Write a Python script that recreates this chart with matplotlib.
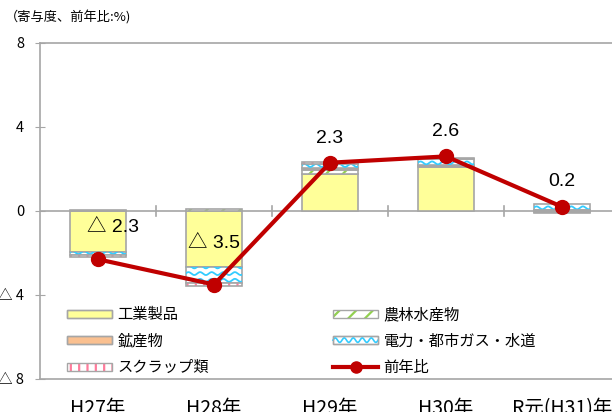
import matplotlib
matplotlib.use('Agg')
import matplotlib.pyplot as plt
import numpy as np
from matplotlib.patches import Patch, Rectangle
from matplotlib.lines import Line2D
from matplotlib.legend_handler import HandlerBase

plt.rcParams['font.family'] = ['Noto Sans CJK JP', 'DejaVu Sans']
plt.rcParams['hatch.linewidth'] = 1.6

# データ (寄与度、前年比 %)
years = ['H27年', 'H28年', 'H29年', 'H30年', 'R元(H31)年']
kogyo = [-1.95, -2.65, 1.75, 2.08, -0.03]      # 工業製品
norin = [0.02, 0.08, 0.22, 0.05, 0.03]         # 農林水産物
kozan = [0.01, -0.02, 0.08, 0.04, -0.03]       # 鉱産物
denryoku = [-0.15, -0.75, 0.20, 0.30, 0.32]    # 電力・都市ガス・水道
scrap = [-0.10, -0.15, 0.08, 0.05, -0.05]      # スクラップ類
zennen = [-2.3, -3.5, 2.3, 2.6, 0.2]           # 前年比

label_y = [-0.8, -1.55, 3.45, 3.78, 1.4]
label_dx = [0.13, 0.0, 0, 0, 0]

EDGE = '#a6a6a6'
YELLOW = '#ffff99'
ORANGE = '#fac090'
GREEN = '#92d050'
BLUE = '#33ccff'
PINK = '#ff7c9c'
RED = '#c00000'

fig = plt.figure(figsize=(6.12, 4.12), dpi=100)
ax = fig.add_axes([40/612, 1-379/412, 580/612, 336/412])

x = np.arange(len(years))
w = 0.49

series = [
    ('工業製品', kogyo, dict(color=YELLOW)),
    ('農林水産物', norin, dict(color='white', hatch='//', hc=GREEN)),
    ('鉱産物', kozan, dict(color=ORANGE)),
    ('電力・都市ガス・水道', denryoku, dict(color='white', wave=True)),
    ('スクラップ類', scrap, dict(color='white', hatch='||', hc=PINK)),
]

def draw_wave(ax, rect):
    bx, by = rect.get_x(), rect.get_y()
    bw, bh = rect.get_width(), rect.get_height()
    if bh == 0:
        return
    xs = np.linspace(bx, bx + bw, 200)
    lo, hi = min(by, by + bh), max(by, by + bh)
    ylev = lo + 0.12
    while ylev < hi + 0.2:
        ys = ylev + 0.07 * np.sin((xs - bx) / 0.1 * 2 * np.pi)
        ln, = ax.plot(xs, ys, color=BLUE, lw=1.3, zorder=2.5)
        ln.set_clip_path(rect)
        ylev += 0.32

pos_base = np.zeros(len(x))
neg_base = np.zeros(len(x))
for name, vals, st in series:
    vals = np.array(vals)
    bottoms = np.where(vals >= 0, pos_base, neg_base)
    bars = ax.bar(x, vals, w, bottom=bottoms, color=st['color'],
                  edgecolor=st.get('hc', EDGE), hatch=st.get('hatch'),
                  linewidth=0 if 'hatch' in st else 1.2, zorder=2)
    if 'hatch' in st:
        ax.bar(x, vals, w, bottom=bottoms, fill=False, edgecolor=EDGE,
               linewidth=1.2, zorder=2.6)
    if st.get('wave'):
        for r in bars:
            draw_wave(ax, r)
    pos_base = pos_base + np.where(vals >= 0, vals, 0)
    neg_base = neg_base + np.where(vals < 0, vals, 0)

ax.plot(x, zennen, color=RED, lw=3, marker='o', ms=10, zorder=4)

for i, v in enumerate(zennen):
    txt = f'△ {abs(v):.1f}' if v < 0 else f'{v:.1f}'
    ax.text(x[i] + label_dx[i], label_y[i], txt, ha='center', va='center',
            fontsize=14, family=['Liberation Sans', 'Noto Sans CJK JP'], zorder=5)

# zero line with category separators
ax.axhline(0, color=EDGE, lw=1.2, zorder=1)
for b in x[:-1] + 0.5:
    ax.plot([b, b], [-0.25, 0.25], color=EDGE, lw=1.2, zorder=1)

ax.set_xlim(-0.5, len(years) - 0.5)
ax.set_ylim(-8, 8)
ax.set_yticks([8, 4, 0, -4, -8])
ax.set_yticklabels(['8', '4', '0', '△ 4', '△ 8'], fontsize=10.5)
ax.tick_params(axis='y', direction='inout', length=7, color=EDGE, pad=8)
ax.set_xticks(x)
ax.set_xticklabels(years, fontsize=14)
ax.tick_params(axis='x', length=0, pad=14)
for s in ['left', 'bottom', 'top']:
    ax.spines[s].set_color(EDGE)
    ax.spines[s].set_linewidth(1.2)
ax.spines['right'].set_visible(False)

fig.text(5/612, 1-18/412, '（寄与度、前年比:%)', fontsize=9.5, va='center')


class Swatch(HandlerBase):
    def __init__(self, face, hatch=None, hc=None, wave=False):
        super().__init__()
        self.face, self.hatch, self.hc, self.wave = face, hatch, hc, wave

    def create_artists(self, legend, orig_handle, xd, yd, width, height,
                       fontsize, trans):
        h = 8 * 72 / 100
        y0 = yd + (height - h) / 2
        arts = []
        base = Rectangle((xd, y0), width, h, facecolor=self.face,
                         edgecolor=self.hc or EDGE, hatch=self.hatch,
                         linewidth=0 if self.hatch else 1.0, transform=trans)
        arts.append(base)
        if self.wave:
            xs = np.linspace(xd, xd + width, 80)
            ys = y0 + h / 2 + h * 0.28 * np.sin((xs - xd) / (width / 5) * 2 * np.pi)
            arts.append(Line2D(xs, ys, color=BLUE, lw=1.2, transform=trans))
        arts.append(Rectangle((xd, y0), width, h, fill=False, edgecolor=EDGE,
                              linewidth=1.0, transform=trans))
        return arts


hs = [Patch(label=s[0]) for s in series]
handler_map = {
    hs[0]: Swatch(YELLOW),
    hs[1]: Swatch('white', '//', GREEN),
    hs[2]: Swatch(ORANGE),
    hs[3]: Swatch('white', wave=True),
    hs[4]: Swatch('white', '||', PINK),
}
line_h = Line2D([], [], color=RED, lw=3, marker='o', ms=8, label='前年比')

leg_kw = dict(handler_map=handler_map, frameon=False, loc='center left',
              fontsize=11, handlelength=2.95, handletextpad=0.35,
              labelspacing=0.62, borderpad=0, borderaxespad=0)
# rows centred at y = 315, 340, 366 px
yc = (379 - 341) / 336
leg1 = ax.legend(handles=[hs[0], hs[2], hs[4]],
                 bbox_to_anchor=((67 - 40) / 580, yc), **leg_kw)
ax.add_artist(leg1)
ax.legend(handles=[hs[1], hs[3], line_h],
          bbox_to_anchor=((333 - 40) / 580, yc), **leg_kw)

fig.savefig('out.png', dpi=100)
